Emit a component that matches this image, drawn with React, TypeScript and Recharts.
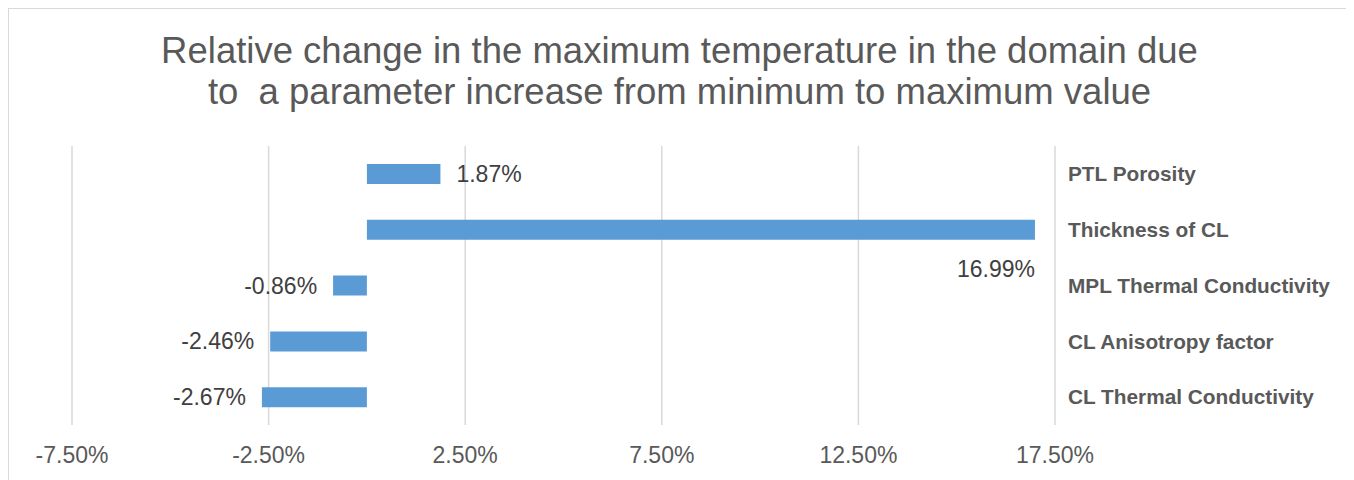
import React from "react";
import { Bar, BarChart, CartesianGrid, LabelList, XAxis, YAxis } from "recharts";

const parameters = [
  "PTL Porosity",
  "Thickness of CL",
  "MPL Thermal Conductivity",
  "CL Anisotropy factor",
  "CL Thermal Conductivity",
];
const relativeChange = [1.87, 16.99, -0.86, -2.46, -2.67];
const xTicks = [-7.5, -2.5, 2.5, 7.5, 12.5, 17.5];
const titleLines = [
  "Relative change in the maximum temperature in the domain due",
  "to  a parameter increase from minimum to maximum value",
];

const data = parameters.map((name, i) => ({ name, value: relativeChange[i] }));

const CHART_W = 1341;
const CHART_H = 471;
const PLOT_RIGHT = 1046;
const TEXT = "#595959";
const LABEL = "#404040";
const FONT = "'Liberation Sans', Arial, sans-serif";

const pct = (v: number) => `${v.toFixed(2)}%`;

// value labels sit outside the bar end; the long one drops below the bar
function ValueLabel(props: any) {
  const { x, y, width, height, value } = props;
  const left = Math.min(x, x + width);
  const right = Math.max(x, x + width);
  const cy = y + height / 2;
  const common = { fill: LABEL, fontSize: 23, fontFamily: FONT, dominantBaseline: "central" as const };
  if (value >= 0 && right + 110 > PLOT_RIGHT) {
    return (
      <text x={right} y={cy + 39} textAnchor="end" {...common}>
        {pct(value)}
      </text>
    );
  }
  if (value >= 0) {
    return (
      <text x={right + 16} y={cy} textAnchor="start" {...common}>
        {pct(value)}
      </text>
    );
  }
  return (
    <text x={left - 16} y={cy} textAnchor="end" {...common}>
      {pct(value)}
    </text>
  );
}

export default function App() {
  return (
    <div
      style={{
        position: "relative",
        width: CHART_W,
        height: 480,
        margin: "-1px 0 0 -1px",
        border: "2px solid #d9d9d9",
        background: "#fff",
      }}
    >
      <div
        style={{
          position: "absolute",
          left: 0,
          top: 21,
          width: CHART_W,
          textAlign: "center",
          fontFamily: FONT,
          fontSize: 36.5,
          lineHeight: "41px",
          color: TEXT,
          whiteSpace: "pre",
        }}
      >
        {titleLines.map((t) => (
          <div key={t}>{t}</div>
        ))}
      </div>
      <BarChart
        width={CHART_W}
        height={CHART_H}
        data={data}
        layout="vertical"
        margin={{ top: 137, right: 0, bottom: 0, left: 63 }}
      >
        <CartesianGrid horizontal={false} stroke="#d9d9d9" strokeWidth={1.5} />
        <XAxis
          type="number"
          domain={[-7.5, 17.5]}
          ticks={xTicks}
          tickFormatter={pct}
          axisLine={false}
          tickLine={false}
          tickMargin={16}
          height={55}
          interval={0}
          tick={{ fill: TEXT, fontSize: 23, fontFamily: FONT }}
        />
        <YAxis
          type="category"
          dataKey="name"
          orientation="right"
          width={295}
          axisLine={false}
          tickLine={false}
          tickMargin={7}
          tick={{
            fill: TEXT,
            fontSize: 20.8,
            fontWeight: "bold",
            fontFamily: FONT,
            textAnchor: "start",
          }}
        />
        <Bar dataKey="value" fill="#5b9bd5" barSize={20} isAnimationActive={false}>
          <LabelList dataKey="value" content={ValueLabel} />
        </Bar>
      </BarChart>
    </div>
  );
}
